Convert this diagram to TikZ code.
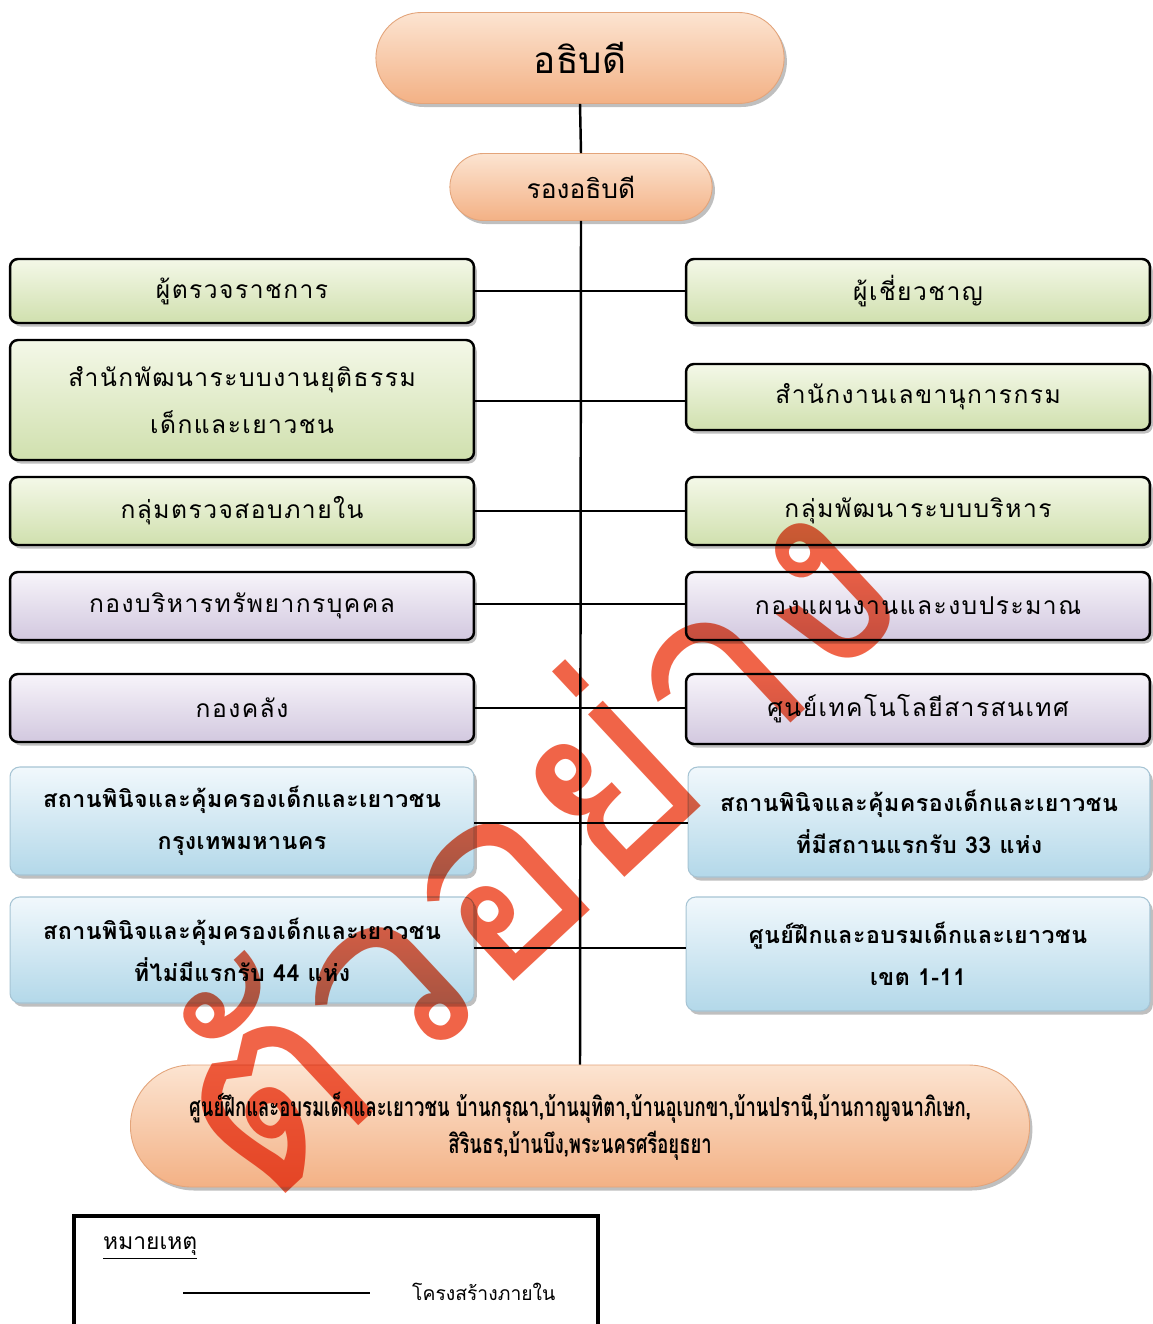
\documentclass[tikz,border=0pt]{standalone}
\usepackage{fontspec}
\setmainfont[Script=Thai]{Loma}
\newfontfamily\thaicond[Script=Thai,FakeStretch=0.70]{Loma}
\newfontfamily\boxfont[Script=Thai,LetterSpace=6]{Loma}
\newfontfamily\bluefont[Script=Thai,LetterSpace=2]{Loma}
\usetikzlibrary{shapes.misc,shadows}
\definecolor{orgtop}{HTML}{FCE4D1}
\definecolor{orgbot}{HTML}{F3B185}
\definecolor{orgedge}{HTML}{E3A47A}
\definecolor{grntop}{HTML}{F4F8E8}
\definecolor{grnbot}{HTML}{D0E0AE}
\definecolor{purtop}{HTML}{F7F4FA}
\definecolor{purbot}{HTML}{D2C8DF}
\definecolor{blutop}{HTML}{F1F8FC}
\definecolor{blubot}{HTML}{B3D8E9}
\definecolor{bluedge}{HTML}{A6C4D4}
\definecolor{wm}{HTML}{F06448}
\tikzset{
  shad/.style={drop shadow={shadow xshift=1.6pt,shadow yshift=-2pt,fill=black!55,opacity=0.45}},
  pill/.style={rounded rectangle, shad, top color=orgtop, bottom color=orgbot, draw=orgedge, line width=0.5pt, align=center},
  box/.style={rectangle, rounded corners=4.5pt, shad, draw=black, line width=1.4pt,
    minimum width=9.28cm, minimum height=1.28cm, align=center, font=\boxfont\fontsize{14}{26.5}\selectfont},
  gbox/.style={box, top color=grntop, bottom color=grnbot},
  pbox/.style={box, top color=purtop, bottom color=purbot},
  bbox/.style={box, draw=bluedge, line width=0.6pt, rounded corners=5.5pt, top color=blutop, bottom color=blubot,
    font=\bluefont\bfseries\fontsize{13.2}{23.8}\selectfont},
  conn/.style={draw=black, line width=1.4pt},
}
\begin{document}
\begin{tikzpicture}[x=0.02cm,y=-0.02cm]
\useasboundingbox (0,0) rectangle (1152,1324);
\fill[white] (0,0) rectangle (1152,1324);
% top
\node[pill, minimum width=8.4cm, minimum height=1.82cm, font=\fontsize{21}{24}\selectfont] (dg) at (580,58) {อธิบดี};
\node[pill, minimum width=5.48cm, minimum height=1.34cm, font=\fontsize{15}{17}\selectfont] (ddg) at (581,187) {รองอธิบดี};
\node[pill, minimum width=18.22cm, minimum height=2.44cm, font=\thaicond\bfseries\fontsize{15}{21}\selectfont] (bot) at (580,1126)
  {ศูนย์ฝึกและอบรมเด็กและเยาวชน บ้านกรุณา,บ้านมุทิตา,บ้านอุเบกขา,บ้านปรานี,บ้านกาญจนาภิเษก,\\สิรินธร,บ้านบึง,พระนครศรีอยุธยา};
% connectors (spine)
\draw[conn] (dg.south) -- (ddg.north);
\draw[conn] (ddg.south) -- (bot.north);
% left column
\node[gbox] (L1) at (242,291) {ผู้ตรวจราชการ};
\node[gbox, minimum height=2.4cm] (L2) at (242,400) {สำนักพัฒนาระบบงานยุติธรรม\\เด็กและเยาวชน};
\node[gbox, minimum height=1.36cm] (L3) at (242,511) {กลุ่มตรวจสอบภายใน};
\node[pbox, minimum height=1.36cm] (L4) at (242,606) {กองบริหารทรัพยากรบุคคล};
\node[pbox, minimum height=1.36cm] (L5) at (242,708) {กองคลัง};
\node[bbox, minimum height=2.16cm] (L6) at (242,821) {สถานพินิจและคุ้มครองเด็กและเยาวชน\\กรุงเทพมหานคร};
\node[bbox, minimum height=2.12cm] (L7) at (242,950) {สถานพินิจและคุ้มครองเด็กและเยาวชน\\ที่ไม่มีแรกรับ 44 แห่ง};
% right column
\node[gbox] (R1) at (918,291) {ผู้เชี่ยวชาญ};
\node[gbox, minimum height=1.32cm] (R2) at (918,397) {สำนักงานเลขานุการกรม};
\node[gbox, minimum height=1.36cm] (R3) at (918,511) {กลุ่มพัฒนาระบบบริหาร};
\node[pbox, minimum height=1.36cm] (R4) at (918,606) {กองแผนงานและงบประมาณ};
\node[pbox, minimum height=1.40cm] (R5) at (918,709) {ศูนย์เทคโนโลยีสารสนเทศ};
\node[bbox, minimum width=9.24cm, minimum height=2.2cm] (R6) at (919,822) {สถานพินิจและคุ้มครองเด็กและเยาวชน\\ที่มีสถานแรกรับ 33 แห่ง};
\node[bbox, minimum height=2.28cm] (R7) at (918,954) {ศูนย์ฝึกและอบรมเด็กและเยาวชน\\เขต 1-11};
% horizontal connectors
\draw[conn] (L1.east) -- (R1.west);
\draw[conn] ([yshift=-0.02cm]L2.east) -- ([yshift=-0.02cm]L2.east -| R2.west);
\draw[conn] (L3.east) -- (R3.west);
\draw[conn] ([yshift=0.04cm]L4.east) -- ([yshift=0.04cm]L4.east -| R4.west);
\draw[conn] (L5.east) -- (L5.east -| R5.west);
\draw[conn] ([yshift=-0.04cm]L6.east) -- ([yshift=-0.04cm]L6.east -| R6.west);
\draw[conn] ([yshift=0.04cm]L7.east) -- ([yshift=0.04cm]L7.east -| R7.west);
% legend
\draw[line width=2.2pt] (74,1340) -- (74,1216) -- (598,1216) -- (598,1340);
\node[font=\fontsize{13}{15}\selectfont, anchor=west] (legt) at (97,1248) {\underline{หมายเหตุ}};
\coordinate (lg1) at (183,1293);
\coordinate (lg2) at (370,1293);
\draw[line width=1.3pt] (lg1) -- (lg2);
\node[font=\fontsize{11}{13}\selectfont, anchor=west] (legl) at (406,1292) {โครงสร้างภายใน};
% watermark, multiplied over the chart
\begin{scope}[blend mode=multiply]
  \node[rotate=43, text=wm, font=\fontsize{147}{147}\selectfont] (wmark) at (520,835) {ตัวอย่าง};
\end{scope}
\end{tikzpicture}
\end{document}
